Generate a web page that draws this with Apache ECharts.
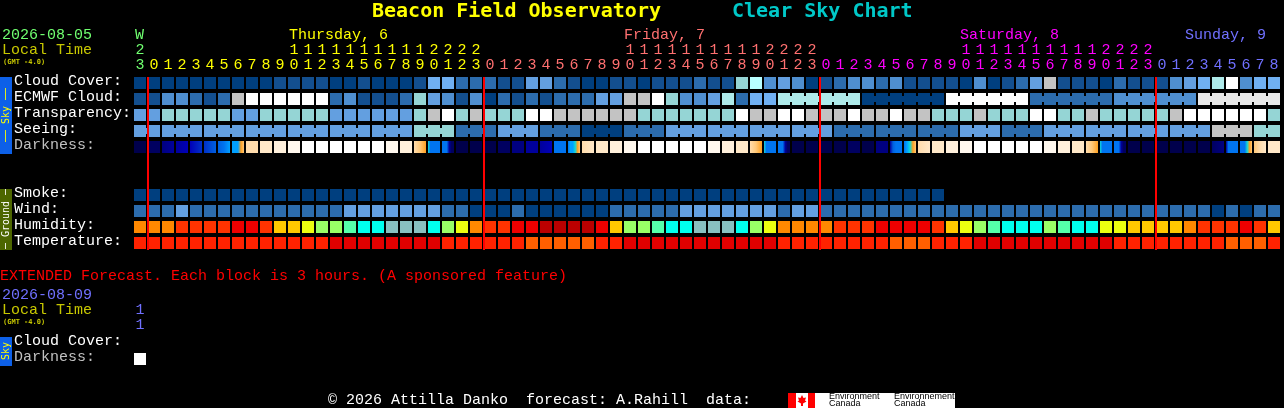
<!DOCTYPE html>
<html>
<head>
<meta charset="utf-8">
<style>html,body{margin:0;padding:0;background:#000}#c{width:1284px;height:408px}</style>
<script src="https://cdn.jsdelivr.net/npm/echarts@6/dist/echarts.min.js"></script>
</head>
<body>
<div id="c"></div>
<script>
// ---- categories / tick labels ----
const hours = ['23',
 '0','1','2','3','4','5','6','7','8','9','10','11','12','13','14','15','16','17','18','19','20','21','22','23',
 '0','1','2','3','4','5','6','7','8','9','10','11','12','13','14','15','16','17','18','19','20','21','22','23',
 '0','1','2','3','4','5','6','7','8','9','10','11','12','13','14','15','16','17','18','19','20','21','22','23',
 '0','1','2','3','4','5','6','7','8'];
const dayStartCols = [0,1,25,49,73];
const midnightCols = [1,25,49,73];
const rowNames = ['Cloud Cover:','ECMWF Cloud:','Transparency:','Seeing:','Darkness:','','','Smoke:','Wind:','Humidity:','Temperature:'];
const extRowNames = ['Cloud Cover:','Darkness:'];
const extHours = ['11'];

// ---- series values (levels) ----
const cloudCover = [0,0,0,0,0,0,0,0,0,0,1,1,1,1,0,0,1,0,0,0,1,
 5,5,2,2,2,1,1,4,4,2,1,0,0,1,1,0,1,1,1,2,1,1,6,8,3,4,3,0,1,2,3,
 3,2,3,1,1,1,1,0,3,0,1,2,4,9,1,1,1,0,2,1,1,1,3,4,5,7,11,3,5,5];
const ecmwfCloud = [1,1,3,3,2,1,2,9,11,11,11,11,11,11,2,3,1,1,1,2,6,
 4,3,1,3,0,2,1,2,1,2,2,2,4,4,9,9,11,6,3,3,4,7,2,5,5,7,7,7,7,7,7,
 0,0,0,0,0,0,11,11,11,11,11,11,2,2,2,2,2,2,3,3,3,3,3,3,10,10,10,10,10,10];
const transparency = [4,4,6,6,6,6,6,4,4,6,6,6,6,6,4,4,4,4,4,4,6,
 9,11,6,9,6,6,6,11,11,9,9,9,9,9,9,6,6,6,6,6,6,6,11,9,9,11,11,9,9,9,11,
 9,9,11,9,9,6,6,6,9,6,6,6,11,11,6,6,9,6,6,6,6,6,9,11,11,11,11,11,11,6];
const seeing = [4,4,4,4,4,4,4,4,4,4,4,4,4,4,4,4,4,4,4,4,6,6,6,
 2,2,2,4,4,4,2,2,2,0,0,0,2,2,2,4,4,4,4,4,4,4,4,4,4,4,4,2,2,2,
 2,2,2,2,2,2,4,4,4,2,2,2,4,4,4,4,4,4,4,4,4,4,4,4,9,9,9,6,6];
const darkness = [[0],[1],[2,3],[3,4],[4,5],[5,6],[6,7,8],[8,8,8,10,11],
 [12],[13],[14],[15],[16],[16],[16],[16],[16],[16],[15],[14],[12,11,10],
 [9,7,7,7,7,7],[7,7,7,3,1,1],[0],[0],[0],[1],[2],[3],[3,4],[7],[7,8,8,9,10,11],
 [12,13],[13],[14],[15],[16],[16],[16],[16],[16],[15],[14],[13],[12,11,10],
 [9,7,7,7,7,7],[7,7,7,3,1,1],[0],[0],[0],[0],[1],
 [0],[2],[3,6,7,7,7],[7,8,9,10,11],[12,13],[13],[14],[15],[16],[16],[16],[16],[16],[15],[14],[13],[12,11,10],
 [9,7,7,7,7,7],[7,7,7,3,1,1],[0],[0],[0],[0],[0],[0],[1,2],
 [3,7,7,7,7,7],[7,7,7,9,10,11],[11,12,13],[13]];
const smoke = [0,0,0,0,0,0,0,0,0,0,0,0,0,0,0,0,0,0,0,0,0,0,0,0,0,0,0,0,0,0,
 0,0,0,0,0,0,0,0,0,0,0,0,0,0,0,0,0,0,0,0,0,0,0,0,0,0,0,0];
const wind = [2,2,2,4,2,2,2,2,2,2,2,2,2,2,2,4,4,4,4,4,4,
 4,2,2,0,0,0,2,0,0,0,0,0,0,2,2,2,2,2,4,4,4,4,4,4,4,2,4,4,2,2,2,
 2,2,2,2,2,2,2,2,2,2,2,2,2,2,2,2,2,2,2,2,2,2,2,2,2,0,2,0,2,2];
const humidity = [3,3,3,2,2,2,2,1,1,2,4,4,5,6,6,7,8,8,9,9,9,
 8,6,5,3,2,2,1,1,0,0,0,0,1,4,6,6,7,8,8,9,9,9,8,6,5,3,3,3,3,2,2,
 2,1,1,1,1,2,4,5,6,7,8,8,8,6,7,8,8,5,5,4,4,4,4,3,2,2,2,1,2,4];
const temperature = [1,1,1,1,1,1,1,1,1,1,1,1,1,1,0,0,0,0,0,0,0,
 0,1,1,1,1,1,1,2,2,2,2,2,1,1,0,0,0,0,0,0,0,0,0,0,0,1,1,1,1,1,1,
 1,1,2,2,2,1,1,1,0,0,0,0,0,0,0,0,0,0,1,1,1,1,1,1,1,1,2,2,2,1];
const extDarkness = [[16]];

// groups of cells joined by a small bridge
const ecmwfGroups = [[46,51],[52,57],[58,63],[64,69],[70,75],[76,81]];
const seeingGroups = [[0,1],[2,4],[5,7],[8,10],[11,13],[14,16],[17,19],[20,22],[23,25],[26,28],[29,31],[32,34],[35,37],[38,40],
 [41,43],[44,46],[47,49],[50,52],[53,55],[56,58],[59,61],[62,64],[65,67],[68,70],[71,73],[74,76],[77,79],[80,81]];

// ---- styles ----
const skyColors = ['#003f7f','#134f8f','#2c6cad','#4f8fd0','#639fe0','#70b0f2','#95d5d5','#aeeaea','#b8ffff','#c3c3c3','#e8e8e8','#ffffff'];
const humidityColors = ['#bb0000','#ee0000','#ff3300','#ff8800','#ffc800','#ecff10','#99ff66','#55ffaa','#00ffee','#88c0c0'];
const temperatureColors = ['#e00000','#ff2200','#ff5f00'];
const darkColors = ['#00004c','#000060','#000080','#00009c','#0000b8','#0030c8','#0060e0','#0074f0','#00a0ff','#10d8d8','#ffa020','#ffc878','#ffdcac','#ffe8c8','#fff0dc','#fff8ee','#ffffff'];
const dayColors = ['#70ff70','#ffff00','#ff7070','#ff00ff','#7070ff'];
const MONO = '"Liberation Mono", monospace';
const BOLD = '"DejaVu Sans Mono", monospace';

function dayOf(i){ let d=0; dayStartCols.forEach((s,k)=>{ if(i>=s) d=k; }); return d; }

function cellSeries(name, row, values, palette, groups, gridIdx){
  const linked = {};
  (groups||[]).forEach(g=>{ for(let i=g[0];i<g[1];i++) linked[i]=1; });
  return {
    name, type:'custom', xAxisIndex:gridIdx||0, yAxisIndex:gridIdx||0, z:2, silent:true,
    data: values.map((v,i)=>[i,row,Array.isArray(v)?v[0]:v]),
    encode:{x:0,y:1},
    renderItem(params, api){
      const col=api.value(0), c=api.coord([col,api.value(1)]), s=api.size([1,1]);
      const v=values[col];
      let fill;
      if(Array.isArray(v)){
        fill = v.length===1 ? palette[v[0]] : new echarts.graphic.LinearGradient(0,0,1,0,
          v.map((k,j)=>({offset:j/(v.length-1),color:palette[k]})));
      } else fill=palette[v];
      const x0=c[0]-s[0]/2+1, y0=c[1]-s[1]/2+2, w=s[0]-2, h=s[1]-4;
      const kids=[{type:'rect',shape:{x:x0,y:y0,width:w,height:h},style:{fill}}];
      if(linked[col]) kids.push({type:'rect',shape:{x:x0+w,y:y0+3,width:2,height:h-6},style:{fill}});
      return {type:'group',children:kids};
    }
  };
}

const series = [
  cellSeries('Cloud Cover',0,cloudCover,skyColors),
  cellSeries('ECMWF Cloud',1,ecmwfCloud,skyColors,ecmwfGroups),
  cellSeries('Transparency',2,transparency,skyColors),
  cellSeries('Seeing',3,seeing,skyColors,seeingGroups),
  cellSeries('Darkness',4,darkness,darkColors),
  cellSeries('Smoke',7,smoke,skyColors),
  cellSeries('Wind',8,wind,skyColors),
  cellSeries('Humidity',9,humidity,humidityColors),
  cellSeries('Temperature',10,temperature,temperatureColors),
  cellSeries('Extended Darkness',1,extDarkness,darkColors,null,1),
  {
    name:'Midnight', type:'custom', xAxisIndex:0, yAxisIndex:0, z:5, silent:true,
    data: midnightCols.map(c=>[c,0]), encode:{x:0,y:1},
    renderItem(params, api){
      const col=api.value(0), a=api.coord([col,0]), b=api.coord([col,rowNames.length-1]), s=api.size([1,1]);
      return {type:'rect',shape:{x:a[0]-s[0]/2,y:a[1]-s[1]/2+2,width:2,height:b[1]-a[1]+s[1]-3},style:{fill:'#ff0000'}};
    }
  }
];

const rich={};
dayColors.forEach((col,i)=>{ rich['d'+i]={color:col,fontFamily:MONO,fontSize:15,lineHeight:15,align:'center'}; });
function hourLabel(h,i,forced){
  const k='d'+(forced!==undefined?forced:dayOf(i));
  const t=String(h);
  return t.split('').map(ch=>'{'+k+'|'+ch+'}').join('\n');
}
const noLine={show:false};
function xAxis(gridIndex,data,fmt){
  return {type:'category',gridIndex,position:'top',data,axisLine:noLine,axisTick:noLine,splitLine:noLine,
    axisLabel:{show:true,interval:0,margin:2,formatter:fmt,rich,hideOverlap:false}};
}
function yAxis(gridIndex,data){
  return {type:'category',gridIndex,inverse:true,data,axisLine:noLine,axisTick:noLine,splitLine:noLine,
    axisLabel:{interval:0,align:'left',verticalAlign:'bottom',lineHeight:4,margin:119,fontFamily:MONO,fontSize:15,
      color:v=>String(v).indexOf('Darkness')===0?'#c0c0c0':'#ffffff'}};
}

function txt(text,x,y,color,size,extra){
  return {type:'text',x,y,z:10,silent:true,style:{text,fill:color,font:(extra&&extra.weight||'normal')+' '+size+'px '+((extra&&extra.family)||MONO),
    textAlign:'left',textVerticalAlign:'middle'}};
}
function vtxt(text,x,y,color,size){
  return {type:'text',x,y,z:10,silent:true,rotation:Math.PI/2,
    style:{text,fill:color,font:size+'px '+BOLD,textAlign:'center',textVerticalAlign:'middle'}};
}
function box(x,y,w,h,fill,z){return {type:'rect',z:z||9,silent:true,shape:{x,y,width:w,height:h},style:{fill}};}

const graphic=[
  txt('Beacon Field Observatory',372,12,'#ffff00',20,{weight:'bold',family:BOLD}),
  txt('Clear Sky Chart',732,12,'#00c8c8',20,{weight:'bold',family:BOLD}),
  txt('2026-08-05',2,35,'#70ff70',15),
  txt('Local Time',2,50,'#c8c800',15),
  txt('(GMT -4.0)',3,62,'#c8c800',7,{weight:'bold',family:BOLD}),
  txt('W',135,35,dayColors[0],15),
  txt('Thursday, 6',289,35,dayColors[1],15),
  txt('Friday, 7',624,35,dayColors[2],15),
  txt('Saturday, 8',960,35,dayColors[3],15),
  txt('Sunday, 9',1185,35,dayColors[4],15),
  box(0,77,12,77,'#0d60e8'),
  vtxt('\u2500\u2500 Sky \u2500\u2500',6,115,'#ffff00',10),
  box(0,189,12,61,'#4d6600'),
  vtxt('\u2500 Ground \u2500',6,219,'#ffffff',10),
  txt('EXTENDED Forecast. Each block is 3 hours. (A sponsored feature)',0,276,'#ff0000',15),
  txt('2026-08-09',2,295,'#7070ff',15),
  txt('Local Time',2,310,'#c8c800',15),
  txt('(GMT -4.0)',3,322,'#c8c800',7,{weight:'bold',family:BOLD}),
  box(0,337,12,29,'#0d60e8'),
  vtxt('Sky',6,351,'#ffff00',10),
  txt('\u00a9 2026 Attilla Danko  forecast: A.Rahill  data:',328,400,'#ffffff',15),
  box(788,393,167,15,'#ffffff'),
  box(788,393,8,15,'#ff0000',10),
  box(808,393,7,15,'#ff0000',10),
  {type:'polygon',z:11,silent:true,shape:{points:[[802,395],[803.5,398],[806,397.5],[805,400.5],[806.5,401.5],[803,403.5],[803,406],[801,406],[801,403.5],[797.5,401.5],[799,400.5],[798,397.5],[800.5,398]]},style:{fill:'#ff0000'}},
  {type:'text',z:11,silent:true,x:829,y:397,style:{text:'Environment',fill:'#000',font:'9px "Liberation Sans"',textVerticalAlign:'middle'}},
  {type:'text',z:11,silent:true,x:829,y:404,style:{text:'Canada',fill:'#000',font:'9px "Liberation Sans"',textVerticalAlign:'middle'}},
  {type:'text',z:11,silent:true,x:894,y:397,style:{text:'Environnement',fill:'#000',font:'9px "Liberation Sans"',textVerticalAlign:'middle'}},
  {type:'text',z:11,silent:true,x:894,y:404,style:{text:'Canada',fill:'#000',font:'9px "Liberation Sans"',textVerticalAlign:'middle'}}
];

const chart=echarts.init(document.getElementById('c'),null,{renderer:'canvas'});
chart.setOption({
  animation:false,
  backgroundColor:'#000',
  grid:[
    {left:133,top:75,width:1148,height:176,containLabel:false},
    {left:133,top:335,width:1148,height:32,containLabel:false}
  ],
  xAxis:[
    xAxis(0,hours,(v,i)=>hourLabel(v,i)),
    xAxis(1,hours.map((h,i)=>extHours[i]||''),(v)=>v?hourLabel(v,0,4):'')
  ],
  yAxis:[yAxis(0,rowNames),yAxis(1,extRowNames)],
  graphic,
  series
});
</script>
</body>
</html>
